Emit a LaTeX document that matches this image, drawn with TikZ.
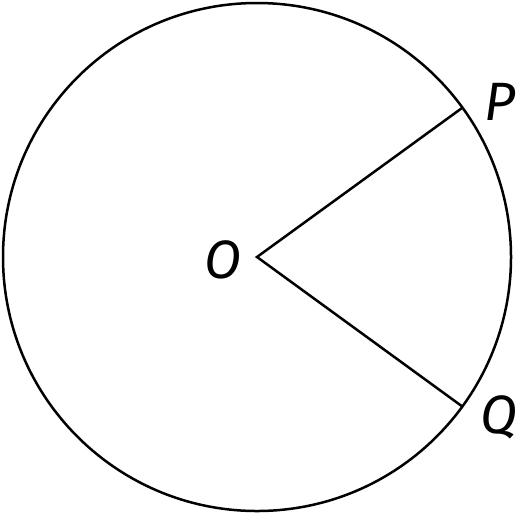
\documentclass[tikz,border=0pt]{standalone}
\usepackage{fontspec}
\setmainfont{Fira Sans}
\begin{document}
\begin{tikzpicture}[x=0.5pt,y=-0.5pt,line width=1.25pt,
  lbl/.style={font=\fontsize{27}{27}\selectfont\itshape,inner sep=0pt}]
  \useasboundingbox (0,0) rectangle (518,515);
  \coordinate (O) at (257,257);
  \coordinate (P) at (462,108);
  \coordinate (Q) at (463,407);
  \draw (O) circle[radius=254];
  \draw (P) -- (O) -- (Q);
  \node[lbl] (lO) at (223,260) {O};
  \node[lbl] (lP) at (500,102) {P};
  \node[lbl] (lQ) at (499,417) {Q};
\end{tikzpicture}
\end{document}
